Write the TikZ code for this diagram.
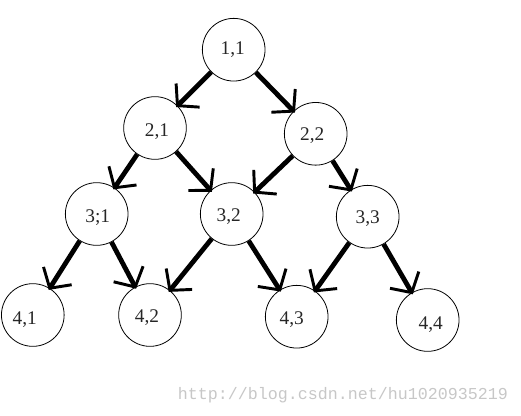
\documentclass[tikz,border=0pt]{standalone}
\usepackage{fontspec}
\setmainfont{Liberation Serif}
\newfontfamily\wmfont{Liberation Mono}
\usetikzlibrary{arrows.meta}
\newlength\pxunit \setlength\pxunit{0.75pt}
\newcommand\shl[3]{\raisebox{-#2\pxunit}[\height][\depth]{\kern#1\pxunit #3\kern-#1\pxunit}}
\begin{document}
\begin{tikzpicture}[x=0.75pt,y=-0.75pt,
  circ/.style={circle,draw,line width=0.6pt,minimum size=47pt,inner sep=0pt,
    font=\fontsize{14.5}{16}\selectfont,text=black!85},
  arr/.style={line width=3.6pt,shorten >=-1.5pt,-{Straight Barb[length=11pt,width=25pt,line width=2.2pt]}}]
\useasboundingbox (0,0) rectangle (521,415);
\node[circ] (n11) at (233.7,49.7) {\shl{-1}{0}{1,1}};
\node[circ] (n21) at (155,128) {\shl{2}{4}{2,1}};
\node[circ] (n22) at (315.7,133.8) {\shl{-3.5}{1.5}{2,2}};
\node[circ] (n31) at (96.7,214) {\shl{1}{4}{3;1}};
\node[circ] (n32) at (231.7,214) {\shl{-3}{3}{3,2}};
\node[circ] (n33) at (367.7,216.7) {\shl{0}{1.5}{3,3}};
\node[circ] (n41) at (32.8,315) {\shl{-8}{5}{4,1}};
\node[circ] (n42) at (150,315) {\shl{-3}{3}{4,2}};
\node[circ] (n43) at (296.7,316.7) {\shl{-5}{2.5}{4,3}};
\node[circ] (n44) at (427.7,320) {\shl{3}{5}{4,4}};
\draw[arr] (n11) -- (n21);
\draw[arr] (n11) -- (n22);
\draw[arr] (n21) -- (n31);
\draw[arr] (n21) -- (n32);
\draw[arr] (n22) -- (n32);
\draw[arr] (n22) -- (n33);
\draw[arr] (n31) -- (n41);
\draw[arr] (n31) -- (n42);
\draw[arr] (n32) -- (n42);
\draw[arr] (n32) -- (n43);
\draw[arr] (n33) -- (n43);
\draw[arr] (n33) -- (n44);
\node[text=black!22,font=\wmfont\fontsize{12.5}{14}\selectfont] (wm) at (343,395) {http://blog.csdn.net/hu1020935219};
\end{tikzpicture}
\end{document}
